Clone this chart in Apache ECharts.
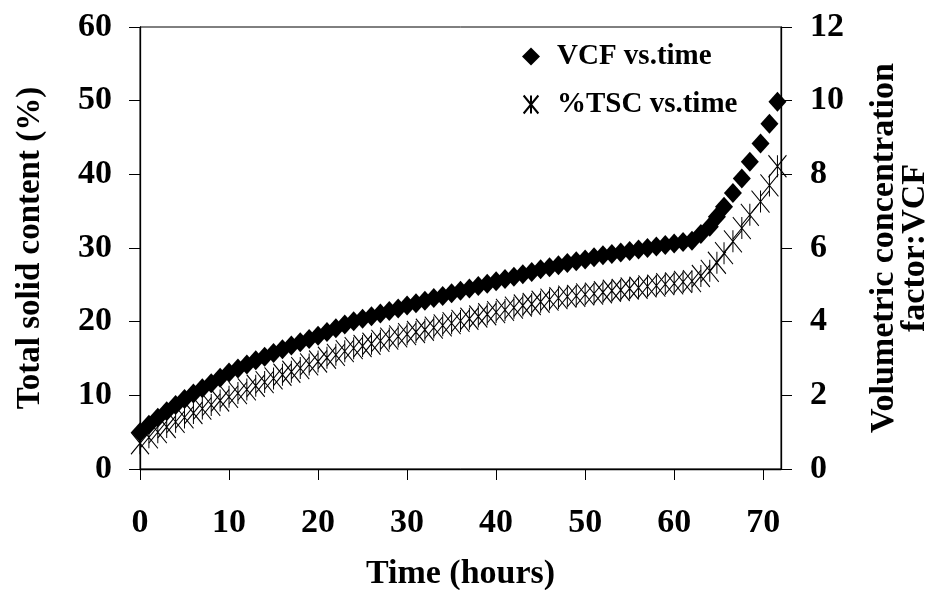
<!DOCTYPE html>
<html>
<head>
<meta charset="utf-8">
<script src="https://cdn.jsdelivr.net/npm/echarts@6/dist/echarts.min.js"></script>
<style>
    html, body { margin: 0; padding: 0; background: #fff; }
    #myChart { width: 940px; height: 590px; }
</style>
</head>
<body>
<div id="myChart"></div>
<script>
    // time (hours)
    const hours = [
        0, 1, 2, 3, 4, 5, 6, 7, 8, 9,
        10, 11, 12, 13, 14, 15, 16, 17, 18, 19,
        20, 21, 22, 23, 24, 25, 26, 27, 28, 29,
        30, 31, 32, 33, 34, 35, 36, 37, 38, 39,
        40, 41, 42, 43, 44, 45, 46, 47, 48, 49,
        50, 51, 52, 53, 54, 55, 56, 57, 58, 59,
        60, 61, 62, 63,
        64, 64.8, 65.6, 66.6, 67.6, 68.5, 69.7, 70.7, 71.6
    ]
    // VCF, right axis
    const vcf = [
        1.00, 1.20, 1.39, 1.57, 1.74, 1.90, 2.05, 2.19, 2.33, 2.48,
        2.62, 2.73, 2.84, 2.95, 3.05, 3.15, 3.25, 3.35, 3.44, 3.53,
        3.62, 3.72, 3.82, 3.92, 4.01, 4.08, 4.15, 4.22, 4.29, 4.36,
        4.44, 4.50, 4.57, 4.64, 4.70, 4.77, 4.84, 4.90, 4.97, 5.03,
        5.10, 5.16, 5.22, 5.29, 5.35, 5.42, 5.48, 5.53, 5.59, 5.64,
        5.69, 5.75, 5.80, 5.84, 5.88, 5.92, 5.96, 6.00, 6.04, 6.08,
        6.12, 6.16, 6.20, 6.38,
        6.58, 6.85, 7.12, 7.49, 7.89, 8.34, 8.84, 9.37, 9.97
    ]
    // %TSC, left axis
    const tsc = [
        3.5, 4.3, 5.0, 5.7, 6.4, 7.0, 7.6, 8.2, 8.7, 9.3,
        9.8, 10.3, 10.8, 11.3, 11.8, 12.3, 12.8, 13.2, 13.7, 14.2,
        14.6, 15.1, 15.5, 16.0, 16.4, 16.7, 17.0, 17.4, 17.7, 18.0,
        18.3, 18.6, 18.9, 19.2, 19.5, 19.8, 20.1, 20.4, 20.7, 21.0,
        21.3, 21.6, 21.9, 22.2, 22.4, 22.7, 23.0, 23.2, 23.4, 23.5,
        23.7, 23.8, 24.0, 24.2, 24.3, 24.5, 24.6, 24.8, 24.9, 25.1,
        25.2, 25.4, 25.5, 26.2,
        26.9, 28.0, 29.3, 30.9, 32.7, 34.5, 36.3, 38.5, 41.1
    ]
    const xTicks = [0, 10, 20, 30, 40, 50, 60, 70]

    const font = "'Liberation Serif', 'Times New Roman', serif"
    const asterisk = 'path://M0,0L18,22M18,0L0,22M9,0L9,22'

    let myChart = echarts.init(document.getElementById('myChart'))

    myChart.setOption({
        animation: false,
        grid: {
            left: 140,
            right: 159,
            top: 27,
            bottom: 121,
            show: true,
            borderColor: '#000',
            borderWidth: 1,
            outerBoundsMode: 'none'
        },
        legend: {
            orient: 'vertical',
            left: 517,
            top: 37,
            itemWidth: 18,
            itemHeight: 18,
            itemGap: 19,
            data: ['VCF vs.time', '%TSC vs.time'],
            textStyle: {
                fontFamily: font,
                fontWeight: 'bold',
                fontSize: 29,
                color: '#000',
                padding: [0, 0, 0, 12]
            }
        },
        xAxis: {
            type: 'value',
            min: 0,
            max: 72,
            interval: 10,
            name: 'Time (hours)',
            nameLocation: 'middle',
            nameGap: 88,
            nameTextStyle: { fontFamily: font, fontWeight: 'bold', fontSize: 34, color: '#000' },
            splitLine: { show: false },
            axisLine: { lineStyle: { color: '#000', width: 1.3 } },
            axisTick: { length: 11, lineStyle: { color: '#000' }, customValues: xTicks },
            axisLabel: {
                margin: 37,
                fontFamily: font, fontWeight: 'bold', fontSize: 34, color: '#000',
                customValues: xTicks
            }
        },
        yAxis: [
            {
                type: 'value',
                min: 0,
                max: 60,
                interval: 10,
                position: 'left',
                name: 'Total solid content (%)',
                nameLocation: 'middle',
                nameRotate: 90,
                nameGap: 93,
                nameTextStyle: { fontFamily: font, fontWeight: 'bold', fontSize: 33, color: '#000' },
                splitLine: { show: false },
                axisLine: { show: true, lineStyle: { color: '#000', width: 1.3 } },
                axisTick: { show: true, length: 11, lineStyle: { color: '#000' } },
                axisLabel: { margin: 28, fontFamily: font, fontWeight: 'bold', fontSize: 34, color: '#000' }
            },
            {
                type: 'value',
                min: 0,
                max: 12,
                interval: 2,
                position: 'right',
                name: 'Volumetric concentration\nfactor:VCF',
                nameLocation: 'middle',
                nameRotate: 90,
                nameGap: 88,
                nameTextStyle: {
                    fontFamily: font, fontWeight: 'bold', fontSize: 34, color: '#000',
                    lineHeight: 31
                },
                splitLine: { show: false },
                axisLine: { show: true, lineStyle: { color: '#000', width: 1.3 } },
                axisTick: { show: true, length: 11, lineStyle: { color: '#000' } },
                axisLabel: { margin: 29, fontFamily: font, fontWeight: 'bold', fontSize: 34, color: '#000' }
            }
        ],
        series: [
            {
                name: '%TSC vs.time',
                type: 'scatter',
                yAxisIndex: 0,
                symbol: asterisk,
                symbolSize: [18, 22],
                itemStyle: { color: '#000', borderColor: '#000', borderWidth: 1.1, opacity: 1 },
                data: hours.map((t, i) => [t, tsc[i]])
            },
            {
                name: 'VCF vs.time',
                type: 'scatter',
                yAxisIndex: 1,
                symbol: 'diamond',
                symbolSize: [18, 20],
                itemStyle: { color: '#000', opacity: 1 },
                data: hours.map((t, i) => [t, vcf[i]])
            }
        ]
    })
</script>
</body>
</html>
